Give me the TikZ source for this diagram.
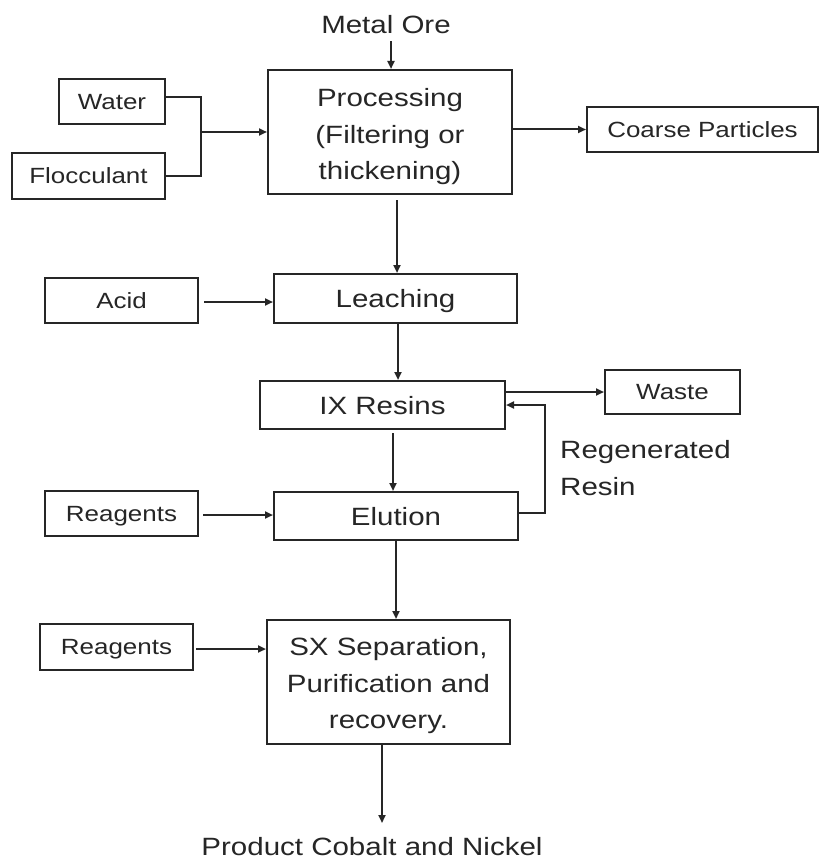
\documentclass[tikz,border=0pt]{standalone}
\usepackage{fontspec}
\setmainfont{Liberation Sans}[FakeStretch=1.18]
\usetikzlibrary{arrows.meta}
\newcommand\mainsz{\fontsize{25}{36.5}\selectfont}
\newcommand\smallsz{\fontsize{22}{30}\selectfont}
\definecolor{ink}{HTML}{262626}
\tikzset{
  frame/.style={draw=ink, line width=2pt, inner sep=0pt},
  box/.style={frame, font=\mainsz, text=ink, text height=18pt, text depth=0pt},
  sbox/.style={frame, font=\smallsz, text=ink, text height=15.8pt, text depth=0pt},
  lbl/.style={inner sep=0pt, font=\mainsz, text=ink, text height=18pt, text depth=0pt},
  mlbl/.style={inner sep=0pt, font=\mainsz, text=ink, align=center},
  ln/.style={draw=ink, line width=2pt},
  arr/.style={ln, -{Triangle[length=8pt,width=7pt]}},
}
\begin{document}
\begin{tikzpicture}[x=1pt,y=-1pt]
\useasboundingbox[fill=white] (0,0) rectangle (821,861);
% nodes
\node[lbl] (ore) at (386,25) {Metal Ore};
\node[frame, minimum width=244pt, minimum height=124pt] (proc) at (390,132) {};
\node[mlbl] (proct) at (390,137) {Processing\\(Filtering or\\thickening)};
\node[sbox, minimum width=106pt, minimum height=45pt] (water) at (112,101.5) {Water};
\node[sbox, minimum width=153pt, minimum height=46pt] (floc) at (88.5,176) {Flocculant};
\node[sbox, minimum width=231pt, minimum height=45pt] (coarse) at (702.5,129.5) {Coarse Particles};
\node[sbox, minimum width=153pt, minimum height=45pt] (acid) at (121.5,300.5) {Acid};
\node[box, minimum width=243pt, minimum height=49pt] (leach) at (395.5,298.5) {Leaching};
\node[box, minimum width=245pt, minimum height=48pt] (ix) at (382.5,405) {IX Resins};
\node[sbox, minimum width=135pt, minimum height=44pt] (waste) at (672.5,392) {Waste};
\node[sbox, minimum width=153pt, minimum height=45pt] (reag1) at (121.5,513.5) {Reagents};
\node[box, minimum width=244pt, minimum height=48pt] (elu) at (396,516) {Elution};
\node[sbox, minimum width=153pt, minimum height=46pt] (reag2) at (116.5,647) {Reagents};
\node[frame, minimum width=243pt, minimum height=124pt] (sx) at (388.5,682) {};
\node[mlbl] (sxt) at (388.5,686) {SX Separation,\\Purification and\\recovery.};
\node[lbl] (prod) at (372,846) {Product Cobalt and Nickel};
\node[mlbl, anchor=west, align=left] (regen) at (560,468) {Regenerated\\Resin};
% helper coordinates
\coordinate (j) at (201,132);
\coordinate (rr) at (545,405);
% connectors
\draw[arr, shorten <=7pt] ([xshift=5pt]ore.south) -- ([xshift=5pt]ore.south |- proc.north);
\draw[ln] ([yshift=4.5pt]water.east) -- ([yshift=4.5pt]water.east -| j) -- (j |- floc.east) -- (floc.east);
\draw[arr] (j) -- (j -| proc.west);
\draw[arr] (proc.east |- coarse.west) -- (coarse.west);
\draw[arr, shorten <=5pt] ([xshift=7pt]proc.south) -- ([xshift=7pt]proc.south |- leach.north);
\draw[arr, shorten <=5pt] (acid.east |- 0,302) -- (leach.west |- 0,302);
\draw[arr] ([xshift=2.5pt]leach.south) -- ([xshift=2.5pt]leach.south |- ix.north);
\draw[arr] (ix.east |- waste.west) -- (waste.west);
\draw[arr, shorten <=3pt] ([xshift=10.5pt]ix.south) -- ([xshift=10.5pt]ix.south |- elu.north);
\draw[arr, shorten <=4pt] (reag1.east |- 0,515) -- (elu.west |- 0,515);
\draw[arr] (elu.east |- 0,513) -| (rr) -- (ix.east);
\draw[arr] (elu.south) -- (elu.south |- sx.north);
\draw[arr, shorten <=2pt] (reag2.east |- 0,649) -- (sx.west |- 0,649);
\draw[arr] ([xshift=-6.5pt]sx.south) -- ([xshift=-6.5pt]sx.south |- 0,823);
\end{tikzpicture}
\end{document}
